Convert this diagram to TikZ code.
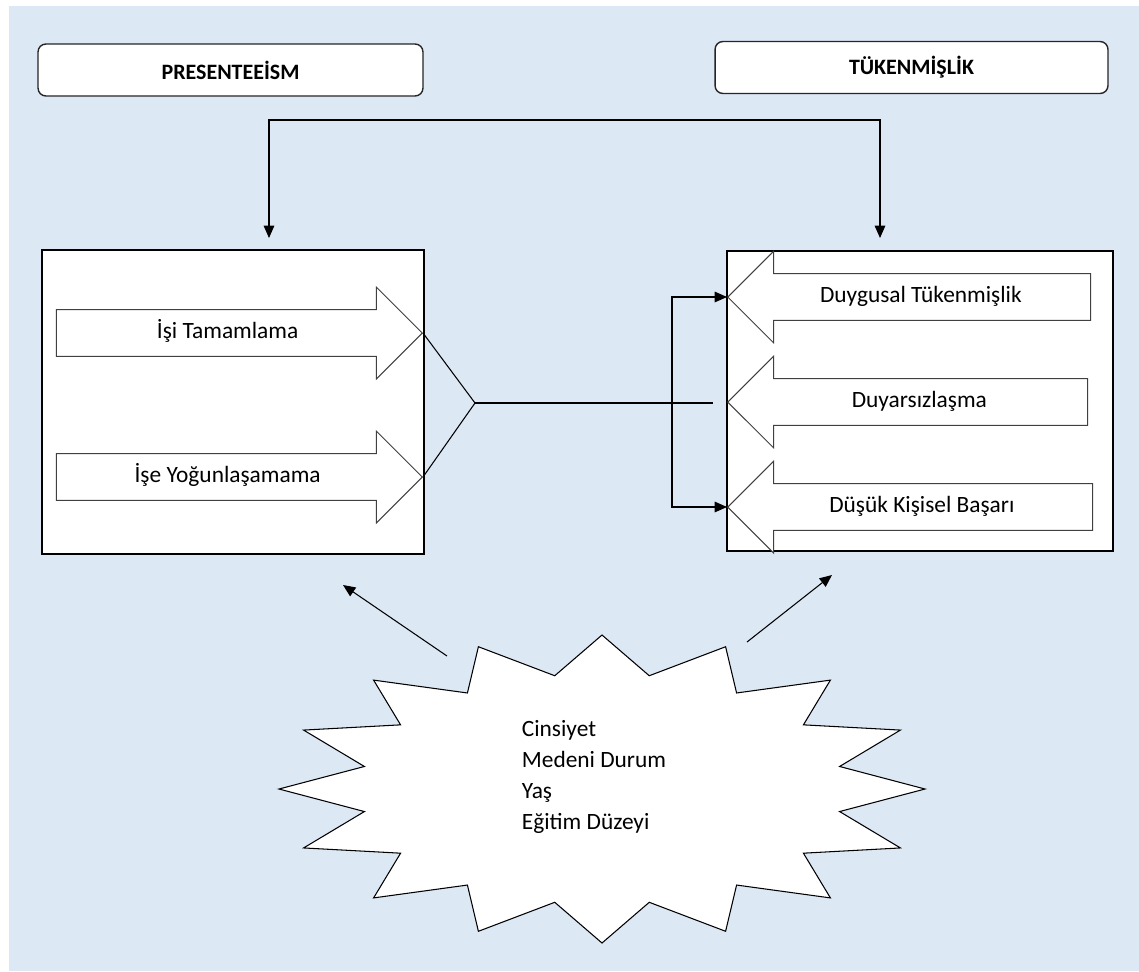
\documentclass[tikz,border=0pt]{standalone}
\usepackage{fontspec}
\setmainfont{Carlito}
\usetikzlibrary{shapes.arrows,arrows.meta,positioning}
\definecolor{bgblue}{RGB}{221,232,245}
\definecolor{linegray}{RGB}{64,64,64}

\begin{document}
\begin{tikzpicture}[x=0.02cm, y=-0.02cm, >={Triangle[length=7pt,width=6pt]}]
    % Styles
    \tikzstyle{header} = [rectangle, draw=black!85, fill=white, rounded corners=4.5pt,
        line width=0.8pt, minimum width=7.7cm, minimum height=1.04cm,
        font=\bfseries\fontsize{12.5}{15}\selectfont]
    \tikzstyle{panel} = [rectangle, draw, fill=white, line width=0.7pt, inner sep=0pt]
    \tikzstyle{barrow} = [single arrow, draw=linegray, fill=white, line width=0.6pt,
        single arrow head extend=12.8pt, inner xsep=2pt, inner ysep=7pt,
        text height=9pt, text depth=3pt, font=\fontsize{13.3}{16}\selectfont, anchor=tip]
    \tikzstyle{line} = [line width=0.6pt]
    \tikzstyle{arrow} = [line width=0.6pt, ->]

    % Background
    \useasboundingbox (0,0) rectangle (1139,971);
    \fill [bgblue] (9,6) rectangle (1139,971);

    % Nodes
    \node [header] (pres) at (230.5,70) {PRESENTEEİSM};
    \node [header, minimum width=7.86cm] (tuk) at (911.5,67.5) {TÜKENMİŞLİK};
    \node [panel, minimum width=7.64cm, minimum height=6.08cm] (left) at (233,402) {};
    \node [panel, minimum width=7.72cm, minimum height=6cm] (right) at (920,401) {};

    \node [barrow, minimum height=7.32cm] (isi) at (423,333) {İşi Tamamlama};
    \node [barrow, minimum height=7.32cm] (ise) at (423,477) {İşe Yoğunlaşamama};
    \node [barrow, shape border rotate=180, minimum height=7.26cm] (duy) at (727,297) {Duygusal Tükenmişlik};
    \node [barrow, shape border rotate=180, minimum height=7.2cm] (dya) at (727,402) {Duyarsızlaşma};
    \node [barrow, shape border rotate=180, minimum height=7.3cm] (dus) at (727,507) {Düşük Kişisel Başarı};

    % Star
    \draw [line, fill=white] (602,635) \foreach \k in {1,...,31} {
        -- ({602+323*cos(90+11.25*\k)*(1-0.25*mod(\k,2))}, {789-154*sin(90+11.25*\k)*(1-0.25*mod(\k,2))}) } -- cycle;
    \node [align=left, font=\fontsize{13.3}{17.6}\selectfont] (demo) at (594,777)
        {Cinsiyet\\Medeni Durum\\Yaş\\Eğitim Düzeyi};

    % Coordinates
    \coordinate (lj) at (475,403);
    \coordinate (lend) at (713,403);
    \coordinate (rj) at (672,403);
    \coordinate (pt) at (269,238);
    \coordinate (tt) at (880,238);
    \coordinate (top) at (575,120);
    \coordinate (sl) at (447,656);
    \coordinate (slt) at (343,585);
    \coordinate (sr) at (747,642);
    \coordinate (srt) at (832,575);

    % Arrows
    \draw [arrow, <->] (pt) |- (top) -| (tt);
    \draw [line] (isi.tip) -- (lj) -- (ise.tip);
    \draw [line] (lj) -- (lend);
    \draw [arrow, <->] (duy.tip) -| (rj) |- (dus.tip);
    \draw [arrow] (sl) -- (slt);
    \draw [arrow] (sr) -- (srt);
\end{tikzpicture}
\end{document}
